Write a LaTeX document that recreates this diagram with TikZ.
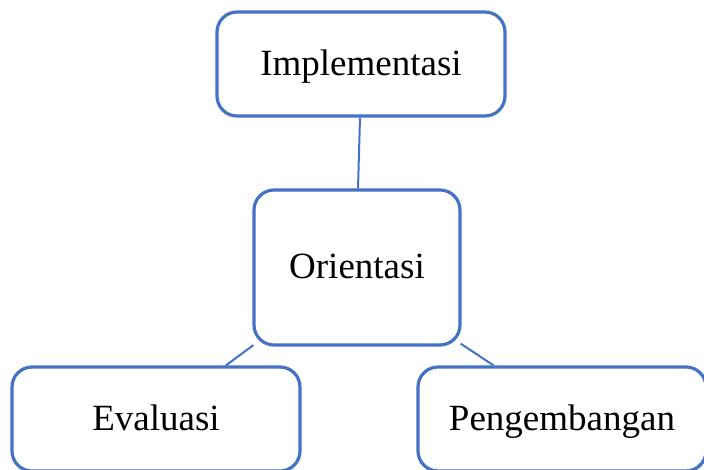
\documentclass[tikz,border=0pt]{standalone}
\usepackage{fontspec}
\setmainfont{Liberation Serif}
\usetikzlibrary{calc}
\definecolor{boxblue}{HTML}{4472C4}
\tikzset{
  box/.style={draw=boxblue, line width=3.2pt, rounded corners=20pt, fill=white,
    minimum width=288pt, minimum height=104pt, inner sep=0pt,
    text height=30pt, text depth=8pt,
    font=\fontsize{37}{40}\selectfont},
  link/.style={draw=boxblue, line width=2pt}
}
\begin{document}
\begin{tikzpicture}[x=1pt,y=-1pt]
\clip (0,0) rectangle (704,469);
\useasboundingbox (0,0) rectangle (704,469);
\node[box] (impl) at (361,64) {Implementasi};
\node[box, minimum width=206pt, minimum height=155pt] (ori) at (357,267.5) {Orientasi};
\node[box] (eva) at (156,419) {Evaluasi};
\node[box] (dev) at (562,419) {Pengembangan};
\coordinate (impbot) at ($(impl.south)+(-1,0)$);
\coordinate (oritop) at ($(ori.north)+(1,0)$);
\draw[link] (impbot) -- (oritop);
\coordinate (evatop) at ($(eva.north west)!0.74!(eva.north east)$);
\coordinate (devtop) at ($(dev.north west)!0.265!(dev.north east)$);
\draw[link] ($(ori.south west)+(1,-1.5)$) -- (evatop);
\draw[link] ($(ori.south east)+(-1,-3)$) -- (devtop);
\end{tikzpicture}
\end{document}
